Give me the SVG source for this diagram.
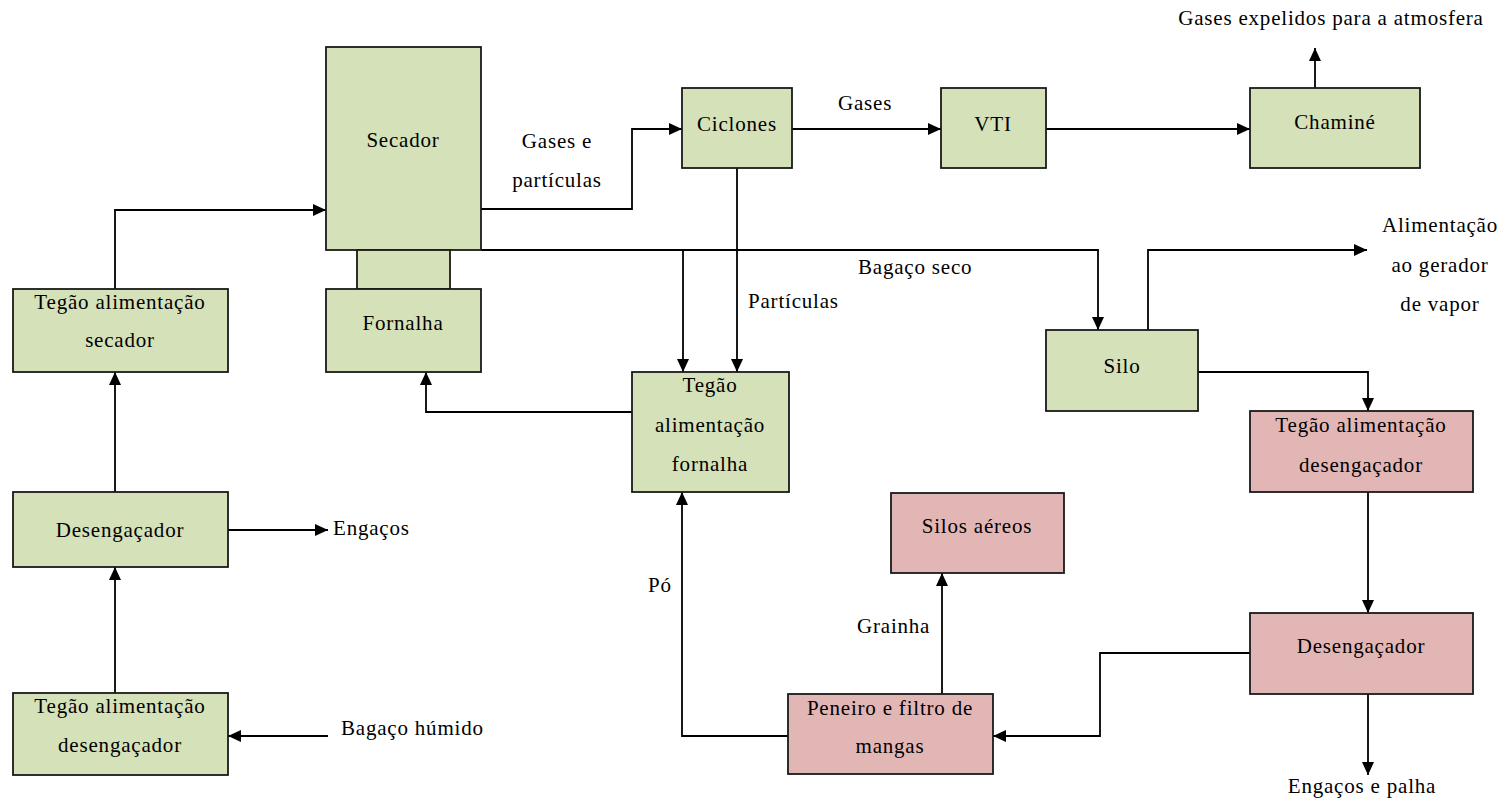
<svg xmlns="http://www.w3.org/2000/svg" width="1508" height="803" viewBox="0 0 1508 803">
  <defs>
    <marker id="arrow" viewBox="0 0 13 12" refX="13" refY="6" markerWidth="13" markerHeight="12" markerUnits="userSpaceOnUse" orient="auto">
      <path d="M0,0 L13,6 L0,12 z" fill="#000"/>
    </marker>
    <style>
      .box { stroke: #1a1a1a; stroke-width: 1.8; }
      .green { fill: #d5e1b9; }
      .pink { fill: #e3b6b6; }
      .lbl { font-family: "Liberation Serif", "Times New Roman", serif; font-size: 21px; letter-spacing: 0.8px; fill: #000; }
      .c { text-anchor: middle; }
      .wire { fill: none; stroke: #000; stroke-width: 1.8; }
      .wire.arr { marker-end: url(#arrow); }
    </style>
  </defs>
  <rect width="1508" height="803" fill="#fff"/>

  <!-- connectors -->
  <g id="connectors">
    <path class="wire arr" d="M115,289 V210 H326"/>
    <path class="wire arr" d="M115,492 V372"/>
    <path class="wire arr" d="M115,693 V567"/>
    <path class="wire arr" d="M228,530 H328"/>
    <path class="wire arr" d="M328,736 H228"/>
    <path class="wire arr" d="M481,209 H632 V129 H682"/>
    <path class="wire arr" d="M792,129 H941"/>
    <path class="wire arr" d="M1046,129 H1250"/>
    <path class="wire arr" d="M1315,88 V48"/>
    <path class="wire arr" d="M481,250 H1098 V330"/>
    <path class="wire arr" d="M683,250 V372"/>
    <path class="wire arr" d="M737,168 V372"/>
    <path class="wire arr" d="M632,412 H426 V372"/>
    <path class="wire arr" d="M1148,330 V250 H1367"/>
    <path class="wire arr" d="M1198,372 H1368 V411"/>
    <path class="wire arr" d="M1368,492 V613"/>
    <path class="wire arr" d="M1250,653 H1100 V736 H993"/>
    <path class="wire arr" d="M1368,694 V775"/>
    <path class="wire arr" d="M788,736 H682 V492"/>
    <path class="wire arr" d="M942,694 V573"/>
  </g>

  <!-- flow labels -->
  <g id="labels" class="lbl">
    <text class="c" x="1331" y="25">Gases expelidos para a atmosfera</text>
    <text x="333" y="535">Engaços</text>
    <text x="341" y="735">Bagaço húmido</text>
    <text class="c" x="557" y="148">Gases e</text>
    <text class="c" x="557" y="187">partículas</text>
    <text x="838" y="110">Gases</text>
    <text x="858" y="274">Bagaço seco</text>
    <text x="748" y="308">Partículas</text>
    <text x="648" y="592">Pó</text>
    <text x="857" y="633">Grainha</text>
    <text class="c" x="1440" y="232">Alimentação</text>
    <text class="c" x="1440" y="272">ao gerador</text>
    <text class="c" x="1440" y="311">de vapor</text>
    <text class="c" x="1362" y="793">Engaços e palha</text>
  </g>

  <!-- nodes -->
  <g id="secador">
    <rect class="box green" x="326" y="47" width="155" height="203"/>
    <text class="lbl c" x="403" y="147">Secador</text>
  </g>
  <g id="ligacao-secador-fornalha">
    <rect class="box green" x="357" y="250" width="93" height="39"/>
  </g>
  <g id="fornalha">
    <rect class="box green" x="326" y="289" width="155" height="83"/>
    <text class="lbl c" x="403" y="330">Fornalha</text>
  </g>
  <g id="tegao-secador">
    <rect class="box green" x="13" y="289" width="215" height="83"/>
    <text class="lbl c" x="120" y="309">Tegão alimentação</text>
    <text class="lbl c" x="120" y="347">secador</text>
  </g>
  <g id="desengacador-1">
    <rect class="box green" x="13" y="492" width="215" height="75"/>
    <text class="lbl c" x="120" y="537">Desengaçador</text>
  </g>
  <g id="tegao-desengacador-1">
    <rect class="box green" x="13" y="693" width="215" height="82"/>
    <text class="lbl c" x="120" y="713">Tegão alimentação</text>
    <text class="lbl c" x="120" y="752">desengaçador</text>
  </g>
  <g id="ciclones">
    <rect class="box green" x="682" y="88" width="110" height="80"/>
    <text class="lbl c" x="737" y="131">Ciclones</text>
  </g>
  <g id="vti">
    <rect class="box green" x="941" y="88" width="105" height="80"/>
    <text class="lbl c" x="993" y="131">VTI</text>
  </g>
  <g id="chamine">
    <rect class="box green" x="1250" y="88" width="170" height="80"/>
    <text class="lbl c" x="1335" y="129">Chaminé</text>
  </g>
  <g id="silo">
    <rect class="box green" x="1046" y="330" width="152" height="81"/>
    <text class="lbl c" x="1122" y="373">Silo</text>
  </g>
  <g id="tegao-fornalha">
    <rect class="box green" x="632" y="372" width="157" height="120"/>
    <text class="lbl c" x="710" y="392">Tegão</text>
    <text class="lbl c" x="710" y="432">alimentação</text>
    <text class="lbl c" x="710" y="471">fornalha</text>
  </g>
  <g id="tegao-desengacador-2">
    <rect class="box pink" x="1250" y="411" width="223" height="81"/>
    <text class="lbl c" x="1361" y="432">Tegão alimentação</text>
    <text class="lbl c" x="1361" y="472">desengaçador</text>
  </g>
  <g id="silos-aereos">
    <rect class="box pink" x="891" y="493" width="173" height="80"/>
    <text class="lbl c" x="977" y="533">Silos aéreos</text>
  </g>
  <g id="desengacador-2">
    <rect class="box pink" x="1250" y="613" width="223" height="81"/>
    <text class="lbl c" x="1361" y="653">Desengaçador</text>
  </g>
  <g id="peneiro">
    <rect class="box pink" x="788" y="694" width="205" height="80"/>
    <text class="lbl c" x="890" y="715">Peneiro e filtro de</text>
    <text class="lbl c" x="890" y="753">mangas</text>
  </g>
</svg>
